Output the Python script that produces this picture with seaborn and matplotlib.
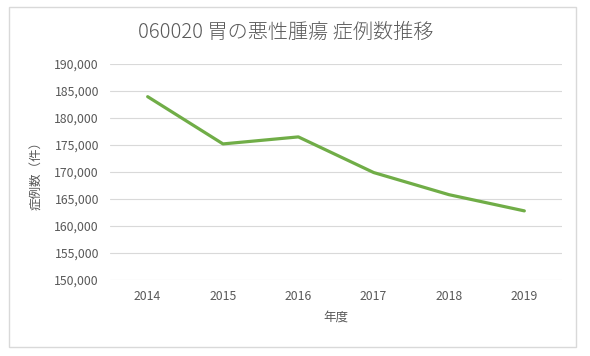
import pandas as pd
import matplotlib.pyplot as plt
import matplotlib.ticker as mticker
from matplotlib.patches import Rectangle
import seaborn as sns

# data
years = ['2014', '2015', '2016', '2017', '2018', '2019']
cases = [183950, 175200, 176500, 169900, 165800, 162800]
title = '060020 胃の悪性腫瘍 症例数推移'

df = pd.DataFrame({'year': years, 'cases': cases})

sns.set_theme(style='white')
plt.rcParams['font.family'] = ['Noto Sans CJK JP', 'DejaVu Sans']
text_col = '#595959'
grid_col = '#d9d9d9'

fig = plt.figure(figsize=(5.9, 3.56), dpi=100)
fig.patches.append(Rectangle((9 / 590, 1 - 347 / 356), 567 / 590, 340 / 356,
                             transform=fig.transFigure, fill=False,
                             edgecolor=grid_col, linewidth=1))
ax = fig.add_axes([110 / 590, 1 - 280 / 356, 452 / 590, 216 / 356])

sns.lineplot(data=df, x='year', y='cases', ax=ax, color='#70AD47',
             linewidth=2.3, sort=False)

ax.set_xlim(-0.5, len(years) - 0.5)
ax.set_ylim(150000, 190000)
ax.yaxis.set_major_locator(mticker.MultipleLocator(5000))
ax.yaxis.set_major_formatter(mticker.FuncFormatter(lambda v, p: f'{int(v):,}'))
ax.grid(axis='y', color=grid_col, linewidth=0.8)
ax.set_axisbelow(True)
for s in ax.spines.values():
    s.set_visible(False)
ax.tick_params(axis='both', length=0, labelsize=8.8, colors=text_col)
ax.tick_params(axis='x', pad=7)
ax.tick_params(axis='y', pad=8)

ax.set_xlabel('年度', fontsize=9, color=text_col, labelpad=6)
ax.set_ylabel('症例数（件）', fontsize=9, color=text_col, labelpad=8)
fig.text(0.484, 1 - 32 / 356, title, ha='center', va='center',
         fontsize=14.5, color=text_col, fontweight='light')

fig.savefig('out.png', dpi=100, facecolor='white')
